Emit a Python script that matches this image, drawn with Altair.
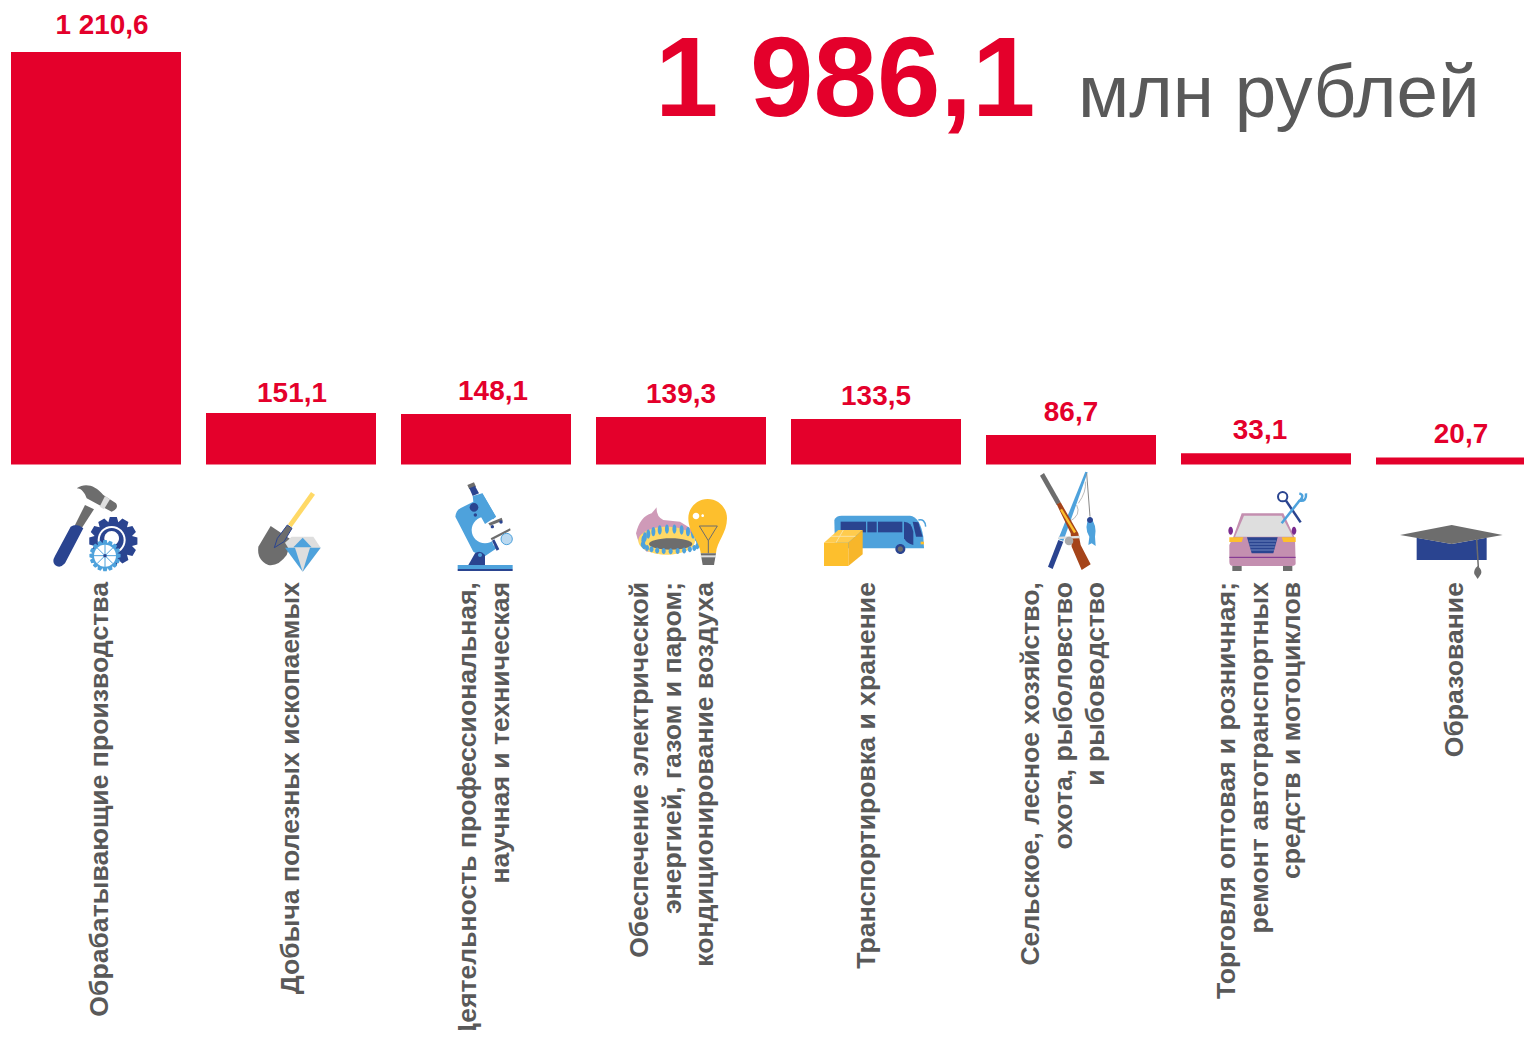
import math
import altair as alt
import pandas as pd

categories = [
    "Обрабатывающие производства",
    "Добыча полезных ископаемых",
    "Деятельность профессиональная,\nнаучная и техническая",
    "Обеспечение электрической\nэнергией, газом и паром;\nкондиционирование воздуха",
    "Транспортировка и хранение",
    "Сельское, лесное хозяйство,\nохота, рыболовство\nи рыбоводство",
    "Торговля оптовая и розничная;\nремонт автотранспортных\nсредств и мотоциклов",
    "Образование",
]
values = [1210.6, 151.1, 148.1, 139.3, 133.5, 86.7, 33.1, 20.7]
value_labels = ["1 210,6", "151,1", "148,1", "139,3", "133,5", "86,7", "33,1", "20,7"]
total_label = "1 986,1"
unit_label = "млн рублей"

# layout nudges, px (separate from the data)
value_dx = [6, 1, 7, 0, 0, 0, -6, 0]
value_dy = [-26, -19, -22, -22, -22, -22, -22, -22]
cat_dx = [4, 0, -18, -41, -9, -40, -39, -6]
BAR_SHARE = 170 / 195

RED = "#E4002B"
GREY = "#595959"
NAVY = "#2A4490"
SKY = "#4EA2DC"
DGREY = "#6D6D6D"
LGREY = "#DEDEDE"
YEL = "#FDBF2D"
PYEL = "#FFD966"
PINK = "#C48FB0"
BROWN = "#A5441A"
WHITE = "#FFFFFF"
NONE = "transparent"


def circle(cx, cy, r):
    return f"M{cx-r},{cy}A{r},{r} 0 1 1 {cx+r},{cy}A{r},{r} 0 1 1 {cx-r},{cy}Z"


def ellipse(cx, cy, rx, ry):
    return f"M{cx-rx},{cy}A{rx},{ry} 0 1 1 {cx+rx},{cy}A{rx},{ry} 0 1 1 {cx-rx},{cy}Z"


def poly(*pts):
    return "M" + "L".join(f"{x},{y}" for x, y in pts) + "Z"


def gear(cx, cy, r1, r2, n):
    pts = []
    for i in range(n):
        a = 2 * math.pi * i / n
        w = math.pi / n
        for da, r in ((-w, r2), (-w * 0.55, r1), (w * 0.55, r1)):
            pts.append((round(cx + r * math.cos(a + da), 1), round(cy + r * math.sin(a + da), 1)))
    return poly(*pts)


def flames():
    out = []
    for i in range(12):
        a = math.pi * (1.02 + 0.96 * i / 11)
        x = 722 + 82 * math.cos(a)
        y = 213 + 36 * math.sin(a)
        out.append((ellipse(round(x, 1), round(y, 1), 6, 14), SKY, NONE, 0))
    for i in range(13):
        a = math.pi * (0.02 + 0.96 * i / 12)
        x = 722 + 84 * math.cos(a)
        y = 222 + 22 * math.sin(a)
        out.append((ellipse(round(x, 1), round(y, 1), 6, 9), SKY, NONE, 0))
    return out


def spokes(cx, cy, r, n):
    out = []
    for i in range(n):
        a = math.pi * i / n
        dx, dy = r * math.cos(a), r * math.sin(a)
        out.append((f"M{cx-dx:.1f},{cy-dy:.1f}L{cx+dx:.1f},{cy+dy:.1f}", NONE, SKY, 1))
    return out


# Pictograms: local path units are 1/3 px, anchored at (ax, ay) on the page.
icons = []


def add(ax, ay, parts):
    for path, fill, stroke, sw in parts:
        icons.append(dict(ax=ax - 8, ay=ay - 8, path=path, fill=fill, stroke=stroke, sw=sw))


add(30, 470, [
    ("M140,55C165,38 195,45 220,75L258,100Q268,115 245,125L235,120L170,85C165,70 155,55 140,55Z", DGREY, NONE, 0),
    (poly((225, 78), (240, 88), (222, 118), (209, 110)), LGREY, NONE, 0),
    (poly((165, 105), (192, 118), (155, 175), (135, 165)), DGREY, NONE, 0),
    ("M122,170Q140,158 160,175L105,280Q90,297 75,285Q65,275 75,258Z", NAVY, NONE, 0),
    (gear(250, 213, 73, 58, 12), NAVY, NONE, 0),
    (circle(245, 210, 42), WHITE, NONE, 0),
    (circle(245, 210, 36), NAVY, NONE, 0),
    (circle(245, 205, 22), WHITE, NONE, 0),
    (gear(225, 257, 47, 38, 16), SKY, NONE, 0),
    (circle(225, 257, 33), WHITE, NONE, 0),
    *spokes(225, 257, 34, 4),
    (circle(225, 257, 5), NAVY, NONE, 0),
    # shovel
    ("M722,168L785,210L770,255Q745,290 715,285Q680,270 685,230Z", DGREY, NONE, 0),
    (poly((843, 66), (855, 74), (785, 172), (774, 163)), PYEL, NONE, 0),
    (poly((772, 165), (786, 175), (762, 215), (733, 233), (742, 205)), DGREY, NAVY, 1),
    (poly((765, 218), (785, 200), (850, 200), (872, 233), (818, 305)), LGREY, NONE, 0),
    (poly((790, 232), (818, 203), (845, 232)), SKY, NONE, 0),
    (poly((765, 233), (795, 233), (818, 305)), SKY, NONE, 0),
    (poly((840, 233), (872, 233), (818, 305)), SKY, NONE, 0),
])

add(430, 470, [
    # microscope
    (poly((112, 45), (132, 37), (138, 50), (118, 58)), DGREY, NONE, 0),
    (poly((118, 55), (135, 48), (147, 70), (128, 78)), NAVY, NONE, 0),
    ("M76,140Q78,118 100,110L130,95L128,78L157,70L198,140L170,165L190,225L200,235L160,262L130,245Z", SKY, NONE, 0),
    (circle(165, 180, 40), WHITE, NONE, 0),
    (poly((172, 150), (215, 160), (215, 205), (180, 212)), WHITE, NONE, 0),
    (poly((157, 70), (198, 140), (165, 162), (130, 100)), SKY, NONE, 0),
    (circle(132, 112, 13), NAVY, NONE, 0),
    (circle(136, 135, 5), NAVY, NONE, 0),
    (poly((175, 160), (215, 143), (218, 152), (180, 167)), DGREY, NONE, 0),
    (circle(187, 170, 5), NAVY, NONE, 0),
    (circle(213, 156, 5), NAVY, NONE, 0),
    (poly((182, 205), (240, 175), (242, 181), (185, 211)), DGREY, NONE, 0),
    (poly((186, 212), (193, 208), (208, 238), (200, 242)), NAVY, NONE, 0),
    (circle(230, 207, 17), "#BBD9F0", SKY, 1),
    ("M115,285L135,250Q150,238 165,255L165,285Z", NAVY, NONE, 0),
    (circle(150, 255, 6), SKY, NONE, 0),
    (poly((83, 285), (248, 285), (248, 297), (83, 297)), SKY, NONE, 0),
    (poly((83, 297), (248, 297), (248, 303), (83, 303)), NAVY, NONE, 0),
    # burner
    ("M618,190Q630,140 665,130L680,112Q678,140 700,150L750,155L790,180L790,230L650,245Q625,225 618,190Z", "#CF9AB8", NONE, 0),
    (ellipse(710, 212, 85, 42), PYEL, NONE, 0),
    (ellipse(722, 222, 65, 17), DGREY, NONE, 0),
    *flames(),
    # bulb
    ("M812,250C810,215 775,190 775,145A58,58 0 1 1 891,145C891,190 860,215 858,250Z", YEL, NONE, 0),
    (poly((812, 250), (858, 250), (852, 285), (818, 285)), DGREY, NONE, 0),
    (poly((812, 256), (858, 256), (858, 262), (812, 262)), LGREY, NONE, 0),
    (circle(798, 138, 10), WHITE, NONE, 0),
    (circle(818, 137, 4), WHITE, NONE, 0),
    ("M808,168L862,168L835,212ZM835,212L835,250", NONE, DGREY, 1),
])

add(810, 465, [
    # bus
    ("M73,165Q78,152 95,152L300,152Q330,155 340,215L342,250L75,250Z", SKY, NONE, 0),
    ("M325,165Q345,160 347,185", NONE, SKY, 1.5),
    (poly((92, 170), (168, 170), (168, 202), (92, 202)), NAVY, NONE, 0),
    (poly((172, 170), (200, 170), (200, 202), (172, 202)), NAVY, NONE, 0),
    (poly((204, 170), (277, 170), (277, 202), (204, 202)), NAVY, NONE, 0),
    ("M282,170Q305,170 310,200L310,240Q290,235 282,220Z", NAVY, NONE, 0),
    (poly((308, 170), (325, 172), (338, 215), (318, 215)), NAVY, NONE, 0),
    (circle(271, 252, 15), NAVY, NONE, 0),
    (circle(271, 252, 8), DGREY, NONE, 0),
    (poly((332, 230), (342, 230), (342, 238), (332, 238)), YEL, NONE, 0),
    # box
    (poly((42, 233), (115, 233), (115, 303), (42, 303)), YEL, NONE, 0),
    (poly((42, 233), (85, 195), (158, 195), (115, 233)), "#FFCB4D", NONE, 0),
    (poly((115, 233), (158, 195), (158, 268), (115, 303)), "#F7B62A", NONE, 0),
    ("M63,214L136,214M100,195L78,233", NONE, "#FBE3A0", 1),
    # rod (lower) and gun
    (poly((745, 225), (760, 230), (728, 312), (714, 305)), NAVY, NONE, 0),
    (poly((826, 20), (833, 22), (760, 228), (745, 222)), SKY, NONE, 0),
    ("M826,50Q830,80 805,115M800,120Q815,150 778,170", NONE, "#BBBBBB", 1),
    (poly((690, 32), (702, 24), (752, 112), (740, 120)), DGREY, NONE, 0),
    ("M740,118L752,112L805,205L812,240L842,298L815,315L785,245L782,205Z", BROWN, NONE, 0),
    (poly((750, 135), (756, 131), (798, 200), (792, 205)), YEL, NONE, 0),
    (poly((745, 215), (810, 212), (810, 220), (745, 222)), LGREY, NONE, 0),
    (circle(777, 228, 13), "#AAAAAA", NONE, 0),
    ("M830,25L840,155", NONE, "#888888", 1),
    ("M840,155Q862,180 855,215L857,243L845,235L835,240L838,215Q820,185 840,155Z", SKY, NONE, 0),
    (circle(840, 165, 9), NAVY, NONE, 0),
])

grille_lines = "M146,213L228,213M148,222L226,222M150,231L224,231M152,240L222,240"
add(1200, 470, [
    # car
    ("M88,225L100,200L125,130L250,130L285,205L287,280Q287,288 275,288L100,288Q88,288 88,275Z", PINK, NONE, 0),
    (poly((105, 200), (132, 137), (245, 137), (278, 200)), LGREY, NONE, 0),
    (ellipse(92, 182, 7, 12), "#7A2B8F", NONE, 0),
    (ellipse(282, 182, 7, 12), "#7A2B8F", NONE, 0),
    (poly((88, 202), (130, 202), (125, 216), (88, 216)), YEL, NONE, 0),
    (poly((245, 202), (287, 202), (287, 216), (250, 216)), YEL, NONE, 0),
    (poly((141, 202), (233, 202), (220, 250), (155, 250)), NAVY, NONE, 0),
    (grille_lines, NONE, "#8FA6D8", 0.7),
    ("M88,262L287,262", NONE, "#7A2B8F", 1),
    (poly((97, 288), (125, 288), (125, 303), (97, 303)), DGREY, NONE, 0),
    (poly((249, 288), (277, 288), (277, 303), (249, 303)), DGREY, NONE, 0),
    # tools
    (circle(248, 80, 14), NONE, NAVY, 2),
    ("M258,92L302,157", NONE, NAVY, 2.5),
    ("M245,160L300,90", NONE, SKY, 2.5),
    ("M298,70Q315,75 300,92Q320,95 318,70", NONE, SKY, 2.5),
    # cap
    (poly((650, 203), (755, 222), (860, 203), (860, 270), (650, 270)), NAVY, NONE, 0),
    (poly((600, 195), (755, 165), (908, 195), (755, 222)), DGREY, NONE, 0),
    ("M830,205L835,292", NONE, DGREY, 1.5),
    ("M833,288Q848,300 843,312L833,327L823,312Q820,298 833,288Z", DGREY, NONE, 0),
])

rank = list(range(len(categories)))
df = pd.DataFrame({
    "category": categories,
    "value": values,
    "base": [0] * len(values),
    "label": value_labels,
    "slot": rank,
    "slot_end": [r + BAR_SHARE for r in rank],
    "slot_mid": [r + BAR_SHARE / 2 for r in rank],
})
icons_df = pd.DataFrame(icons)

W, H = 1516, 1022
x_scale = alt.Scale(domain=[0, len(categories) - 1 + BAR_SHARE], range=[3, 1538], nice=False, zero=False)
y_scale = alt.Scale(domain=[0, 1210.6], range=[456.5, 44], nice=False, zero=True)
x_mid = alt.X("slot_mid:Q", axis=None, scale=x_scale)
y = alt.Y("value:Q", axis=None, scale=y_scale)

bars = alt.Chart(df).mark_bar(color=RED, cornerRadius=0).encode(
    x=alt.X("slot:Q", axis=None, scale=x_scale), x2="slot_end:Q", y=y, y2="base:Q"
)

value_layers = [
    alt.Chart(df.iloc[[i]]).mark_text(
        font="Liberation Sans", fontWeight="bold", fontSize=27.9, color=RED, baseline="middle", align="center",
        dx=value_dx[i], dy=value_dy[i],
    ).encode(x=x_mid, y=y, text="label:N")
    for i in rank
]

# angle 270: a text's own dy moves it along the page's x
cat_layers = [
    alt.Chart(df.iloc[[i]]).mark_text(
        font="Liberation Sans", fontWeight="bold", fontSize=26.6, color=GREY, angle=270,
        align="right", baseline="middle", lineBreak="\n", lineHeight=32.5, dy=cat_dx[i],
    ).encode(x=x_mid, y=alt.value(574), text="category:N")
    for i in rank
]

icon_marks = alt.Chart(icons_df).mark_point(filled=True, opacity=1, size=4 / 9).encode(
    x=alt.X("ax:Q", scale=None, axis=None),
    y=alt.Y("ay:Q", scale=None, axis=None),
    shape=alt.Shape("path:N", scale=None),
    fill=alt.Fill("fill:N", scale=None),
    stroke=alt.Stroke("stroke:N", scale=None),
    strokeWidth=alt.StrokeWidth("sw:Q", scale=None),
)

total = alt.Chart(pd.DataFrame({"t": [total_label]})).mark_text(
    font="Liberation Sans", fontWeight="bold", fontSize=114, color=RED, align="left", baseline="alphabetic",
).encode(x=alt.value(647), y=alt.value(108), text="t:N")

unit = alt.Chart(pd.DataFrame({"t": [unit_label]})).mark_text(
    font="Liberation Sans", fontSize=74.6, color=GREY, align="left", baseline="alphabetic",
).encode(x=alt.value(1070), y=alt.value(109), text="t:N")

chart = alt.layer(bars, *value_layers, *cat_layers, icon_marks, total, unit).resolve_scale(
    x="independent", y="independent"
).properties(
    width=W, height=H, padding=0, autosize=alt.AutoSizeParams(type="none")
).configure_view(stroke=None)

chart.save("out.html", embed_options={"renderer": "svg", "actions": False})
